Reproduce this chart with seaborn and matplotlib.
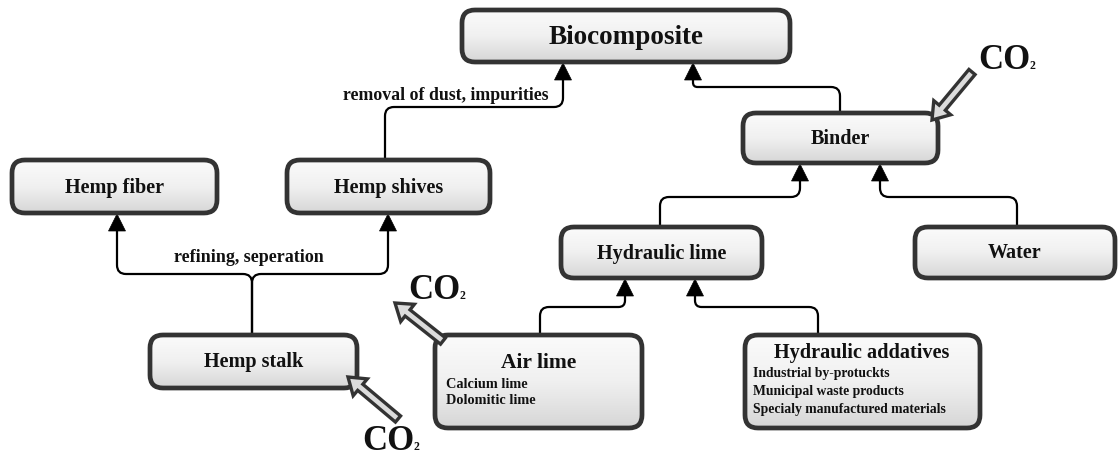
import numpy as np
import matplotlib
matplotlib.use("Agg")
import matplotlib.pyplot as plt
import seaborn as sns
from matplotlib.patches import FancyBboxPatch, Polygon, FancyArrow, PathPatch
from matplotlib.path import Path

# ---------------- data ----------------
node_names = ["Biocomposite", "Binder", "Hemp fiber", "Hemp shives", "Hydraulic lime",
              "Water", "Hemp stalk", "Air lime", "Hydraulic addatives"]
air_lime_items = ["Calcium lime", "Dolomitic lime"]
hydraulic_additive_items = ["Industrial by-protuckts", "Municipal waste products",
                            "Specialy manufactured materials"]
edge_labels = ["removal of dust, impurities", "refining, seperation"]
co2_label = "CO"
co2_sub = "2"

# ---------------- layout (pixels, y downward) ----------------
box_x0 = [462, 743, 12, 287, 561, 915, 150, 435, 745]
box_x1 = [790, 938, 217, 490, 762, 1115, 357, 642, 980]
box_y0 = [10, 113, 160, 160, 227, 227, 335, 335, 335]
box_y1 = [62, 163, 213, 213, 278, 278, 388, 428, 428]
title_size = [19.5, 14.5, 14.5, 14.5, 14.5, 14.5, 14.5, 15.5, 14.6]

# connectors: polyline points, last point is the arrow tip
connectors = [
    [(385, 160), (385, 107), (563, 107), (563, 62)],
    [(840, 113), (840, 87), (693, 87), (693, 62)],
    [(660, 227), (660, 197), (800, 197), (800, 163)],
    [(1017, 227), (1017, 197), (880, 197), (880, 163)],
    [(540, 335), (540, 307), (625, 307), (625, 278)],
    [(818, 335), (818, 307), (695, 307), (695, 278)],
    [(252, 335), (252, 274), (117, 274), (117, 213)],
    [(252, 335), (252, 274), (388, 274), (388, 213)],
]
co2_arrows = [((972, 72), (932, 120)), ((443, 341), (395, 303)), ((398, 419), (348, 377))]
co2_text = [(1031, 69), (460, 299), (414, 450)]

sns.set_theme(style="white")
plt.rcParams['font.family'] = ['Liberation Serif', 'DejaVu Serif']

fig = plt.figure(figsize=(11.18, 4.59), dpi=100)
ax = fig.add_axes([0, 0, 1, 1])
ax.set_xlim(0, 1118)
ax.set_ylim(459, 0)
ax.axis("off")

EDGE = "#333333"
grad = np.linspace(0, 1, 256).reshape(-1, 1)
cmap = matplotlib.colors.LinearSegmentedColormap.from_list("g", ["#fbfbfb", "#f0f0f0", "#d6d6d6"])


def rounded(pts, r=9):
    verts = [pts[0]]
    codes = [Path.MOVETO]
    for i in range(1, len(pts) - 1):
        p = np.array(pts[i], float)
        a = np.array(pts[i - 1], float)
        b = np.array(pts[i + 1], float)
        d1 = (p - a) / np.linalg.norm(p - a)
        d2 = (b - p) / np.linalg.norm(b - p)
        rr = min(r, np.linalg.norm(p - a) / 2, np.linalg.norm(b - p) / 2)
        verts += [tuple(p - d1 * rr), tuple(p), tuple(p + d2 * rr)]
        codes += [Path.LINETO, Path.CURVE3, Path.CURVE3]
    verts.append(pts[-1])
    codes.append(Path.LINETO)
    return Path(verts, codes)


# connectors
for pts in connectors:
    tip = pts[-1]
    body = pts[:-1] + [(tip[0], tip[1] + 16)]
    ax.add_patch(PathPatch(rounded(body), fc="none", ec="black", lw=1.6, zorder=2))
    ax.add_patch(Polygon([(tip[0], tip[1] + 1), (tip[0] - 8.5, tip[1] + 18), (tip[0] + 8.5, tip[1] + 18)],
                         closed=True, fc="black", ec="black", lw=0.5, zorder=3))

# boxes
for i, name in enumerate(node_names):
    x0, x1, y0, y1 = box_x0[i], box_x1[i], box_y0[i], box_y1[i]
    patch = FancyBboxPatch((x0, y0), x1 - x0, y1 - y0,
                           boxstyle="round,pad=0,rounding_size=13",
                           fc="none", ec=EDGE, lw=3.4, zorder=5)
    ax.add_patch(patch)
    im = ax.imshow(grad, cmap=cmap, extent=[x0, x1, y1, y0], origin="upper",
                   aspect="auto", zorder=4, vmin=0, vmax=1)
    im.set_clip_path(patch)
    if name == "Air lime":
        ax.text((x0 + x1) / 2, 363, name, ha="center", va="center", fontsize=title_size[i],
                fontweight="bold", color="#111111", zorder=6)
        for k, it in enumerate(air_lime_items):
            ax.text(x0 + 11, 384 + k * 17, it, ha="left", va="center", fontsize=10.3,
                    fontweight="bold", color="#111111", zorder=6)
    elif name == "Hydraulic addatives":
        ax.text(862, 353, name, ha="center", va="center", fontsize=title_size[i],
                fontweight="bold", color="#111111", zorder=6)
        for k, it in enumerate(hydraulic_additive_items):
            ax.text(x0 + 8, 374 + k * 17.5, it, ha="left", va="center", fontsize=9.8,
                    fontweight="bold", color="#111111", zorder=6)
    else:
        ax.text((x0 + x1) / 2, (y0 + y1) / 2 + 1, name, ha="center", va="center",
                fontsize=title_size[i], fontweight="bold", color="#111111", zorder=6)

# edge labels
ax.text(446, 96, edge_labels[0], ha="center", va="center", fontsize=12.8,
        fontweight="bold", color="#111111", zorder=6)
ax.text(249, 257, edge_labels[1], ha="center", va="center", fontsize=13,
        fontweight="bold", color="#111111", zorder=6)

# CO2 arrows
for (tail, tip), (tx, ty) in zip(co2_arrows, co2_text):
    dx, dy = tip[0] - tail[0], tip[1] - tail[1]
    ax.add_patch(FancyArrow(tail[0], tail[1], dx, dy, width=8, head_width=22, head_length=16,
                            length_includes_head=True, fc="#dcdcdc", ec=EDGE, lw=2.4, zorder=7))
    ax.text(tx, ty, co2_label, ha="right", va="baseline", fontsize=25, fontweight="bold",
            color="#111111", zorder=8)
    ax.text(tx - 1, ty, co2_sub, ha="left", va="baseline", fontsize=8.5, fontweight="bold",
            color="#111111", zorder=8)

ax.set_xlim(0, 1118)
ax.set_ylim(459, 0)
fig.savefig("out.png", dpi=100, facecolor="white")
